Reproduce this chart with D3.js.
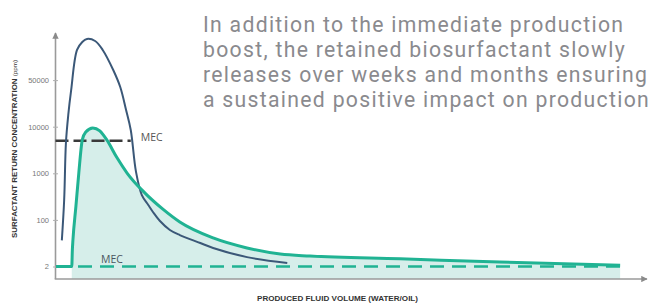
<!DOCTYPE html>
<html>
<head>
<meta charset="utf-8">
<script src="https://cdn.jsdelivr.net/npm/d3@7"></script>
<style>
  html, body { margin: 0; padding: 0; background: #fff; }
  svg { display: block; }
</style>
</head>
<body>
<div id="chart"></div>
<script>
// Values (x: produced volume, arbitrary 0-100; y: ppm)
const yTicks = [2, 100, 1000, 10000, 50000];

const retainedX = [0, 2.7, 2.8, 2.9, 3.4, 3.9, 4.5, 5.1, 6.3, 7.5, 8.7, 10.4, 12.2, 15.2, 18.3, 21.2, 26.9, 32.7, 38.4, 43.5, 58.9, 76.0, 96.6];
const retainedY = [2, 2, 8, 18.5, 190, 1000, 5200, 7700, 9400, 8100, 5200, 2200, 1000, 380, 170, 84, 22, 9.5, 5.7, 4.8, 3.8, 2.9, 2.2];

const conventionalX = [1.0, 1.4, 1.7, 2.1, 2.6, 3.6, 4.5, 5.3, 6.7, 8.0, 9.8, 11.0, 12.0, 12.8, 13.7, 14.7, 15.8, 16.6, 17.8, 19.5, 21.2, 24.7, 26.9, 32.7, 39.6];
const conventionalY = [18, 270, 4500, 15000, 35600, 141600, 186600, 207000, 193000, 141600, 70900, 39400, 17800, 8500, 1070, 340, 209, 148, 91, 43, 28, 14.4, 9.5, 4.4, 2.7];

const mecHigh = { value: 5000, xEnd: 12.8 };
const mecLow = { value: 2, xEnd: 96.6 };

const noteLines = [
  'In addition to the immediate production',
  'boost, the retained biosurfactant slowly',
  'releases over weeks and months ensuring',
  'a sustained positive impact on production',
];

const width = 649;
const height = 305;
const axisX = 55.5;
const axisY = 279;
const yBottom = 266.5;
const yStep = 46.6;

const svg = d3.select('#chart').append('svg')
  .attr('width', width)
  .attr('height', height);

const defs = svg.append('defs');
defs.append('marker')
  .attr('id', 'arrow')
  .attr('viewBox', '0 0 10 10')
  .attr('refX', 9)
  .attr('refY', 5)
  .attr('markerWidth', 4)
  .attr('markerHeight', 4)
  .attr('markerUnits', 'strokeWidth')
  .attr('orient', 'auto')
  .append('path')
  .attr('d', 'M0,0 L10,5 L0,10 Z')
  .attr('fill', '#8a8a8a');

const x = d3.scaleLinear().domain([0, 100]).range([56, 640]);
// equal spacing between the labelled levels, log inside each step
const y = d3.scaleLog()
  .domain(yTicks)
  .range(yTicks.map((d, i) => yBottom - i * yStep));

const retained = retainedX.map((d, i) => ({ x: d, y: retainedY[i] }));
const conventional = conventionalX.map((d, i) => ({ x: d, y: conventionalY[i] }));

// Shaded area under the retained curve
const area = d3.area()
  .x((d) => x(d.x))
  .y0(axisY)
  .y1((d) => y(d.y))
  .curve(d3.curveMonotoneX);

svg.append('path')
  .datum(retained.slice(1))
  .attr('d', area)
  .attr('fill', '#d6eeea');

// Axes
svg.append('line')
  .attr('x1', axisX).attr('y1', axisY)
  .attr('x2', axisX).attr('y2', 33)
  .attr('stroke', '#9a9a9a')
  .attr('stroke-width', 1.6)
  .attr('marker-end', 'url(#arrow)');

svg.append('line')
  .attr('x1', axisX - 0.8).attr('y1', axisY)
  .attr('x2', 647).attr('y2', axisY)
  .attr('stroke', '#9a9a9a')
  .attr('stroke-width', 1.6)
  .attr('marker-end', 'url(#arrow)');

const yAxis = svg.append('g')
  .attr('transform', `translate(${axisX + 2.5},0)`)
  .call(d3.axisLeft(y).tickValues(yTicks).tickFormat(d3.format('d')).tickSize(5).tickPadding(4));
yAxis.select('.domain').remove();
yAxis.selectAll('.tick line').attr('stroke', '#b0b0b0');
yAxis.selectAll('.tick text')
  .attr('fill', '#777')
  .style('font-family', 'Liberation Sans, Arial, sans-serif')
  .style('font-size', '7.5px');

// MEC lines
svg.append('line')
  .attr('x1', x(0)).attr('x2', x(mecLow.xEnd))
  .attr('y1', y(mecLow.value)).attr('y2', y(mecLow.value))
  .attr('stroke', '#20b393')
  .attr('stroke-width', 2.6)
  .attr('stroke-dasharray', '14 8');

svg.append('line')
  .attr('x1', axisX).attr('x2', x(mecHigh.xEnd))
  .attr('y1', y(mecHigh.value)).attr('y2', y(mecHigh.value))
  .attr('stroke', '#3a3a3a')
  .attr('stroke-width', 2.6)
  .attr('stroke-dasharray', '13 5');

const retainedLine = d3.line()
  .x((d) => x(d.x))
  .y((d) => y(d.y))
  .curve(d3.curveMonotoneX);

const conventionalLine = d3.line()
  .x((d) => x(d.x))
  .y((d) => y(d.y))
  .curve(d3.curveCatmullRom.alpha(0.5));

svg.append('path')
  .datum(conventional)
  .attr('d', conventionalLine)
  .attr('fill', 'none')
  .attr('stroke', '#3b5878')
  .attr('stroke-width', 2);

svg.append('path')
  .datum(retained)
  .attr('d', retainedLine)
  .attr('fill', 'none')
  .attr('stroke', '#20b393')
  .attr('stroke-width', 3);

// MEC labels
svg.append('text')
  .attr('x', x(mecHigh.xEnd) + 10)
  .attr('y', y(mecHigh.value) + 0)
  .attr('fill', '#555')
  .style('font-family', 'Open Sans, sans-serif')
  .style('font-size', '10.5px')
  .text('MEC');

svg.append('text')
  .attr('x', 101)
  .attr('y', y(mecLow.value) - 3.5)
  .attr('fill', '#4a5560')
  .style('font-family', 'Open Sans, sans-serif')
  .style('font-size', '10.5px')
  .text('MEC');

// Axis titles
const yTitle = svg.append('text')
  .attr('transform', 'translate(16.5,149) rotate(-90)')
  .attr('text-anchor', 'middle')
  .attr('fill', '#333')
  .attr('textLength', 178)
  .attr('lengthAdjust', 'spacingAndGlyphs')
  .style('font-family', 'Liberation Sans, Arial, sans-serif')
  .style('font-size', '7px')
  .style('font-weight', 'bold');
yTitle.append('tspan').text('SURFACTANT RETURN CONCENTRATION ');
yTitle.append('tspan').style('font-size', '5.5px').style('font-weight', 'normal').text('(ppm)');

svg.append('text')
  .attr('x', 337.5)
  .attr('y', 301)
  .attr('text-anchor', 'middle')
  .attr('fill', '#333')
  .attr('textLength', 161)
  .attr('lengthAdjust', 'spacingAndGlyphs')
  .style('font-family', 'Liberation Sans, Arial, sans-serif')
  .style('font-size', '7.5px')
  .style('font-weight', 'bold')
  .text('PRODUCED FLUID VOLUME (WATER/OIL)');

// Note text: size it so the first line spans ~420px, capped to keep lines apart
const note = svg.append('g')
  .selectAll('text')
  .data(noteLines)
  .join('text')
  .attr('x', 203)
  .attr('y', (d, i) => 31.5 + i * 25)
  .attr('fill', '#8a8a8e')
  .style('font-family', 'Roboto, sans-serif')
  .style('font-size', '20px')
  .text((d) => d);

const firstLen = note.nodes()[0].getComputedTextLength();
const noteSize = Math.min(20 * 420 / firstLen, 21.2);
note.style('font-size', `${noteSize}px`);
// make up the rest of the width with a little tracking
const fittedLen = note.nodes()[0].getComputedTextLength();
const tracking = Math.max(0, (420 - fittedLen) / (noteLines[0].length - 1));
note.style('letter-spacing', `${tracking}px`);
</script>
</body>
</html>
